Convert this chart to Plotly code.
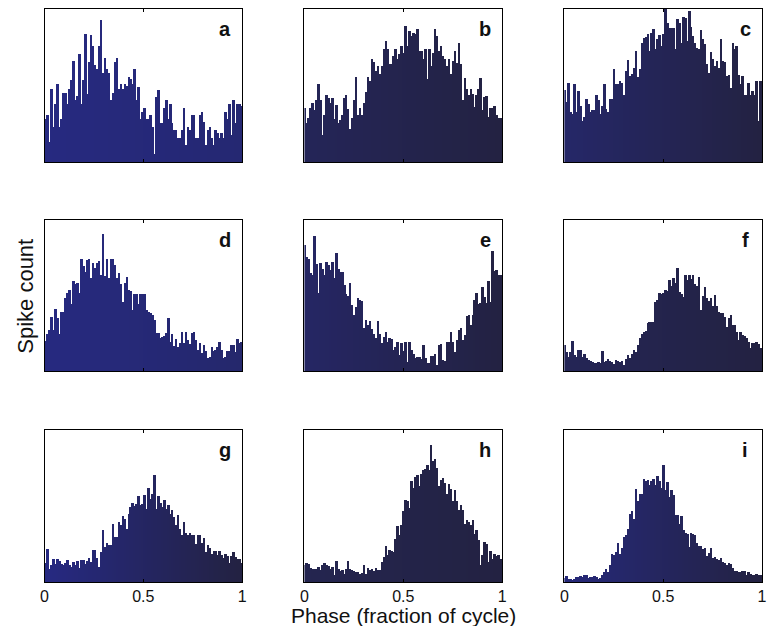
import plotly.graph_objects as go

# Phase histograms: 100 bins over one cycle, spike counts per bin
n_bins = 100
phase = [(k + 0.5) / n_bins for k in range(n_bins)]

counts_a = [43, 47, 20, 73, 35, 58, 77, 35, 43, 69,
            69, 58, 73, 81, 100, 62, 66, 107, 58, 81,
            127, 68, 99, 126, 115, 96, 92, 115, 141, 88,
            103, 92, 88, 62, 69, 99, 103, 73, 77, 73,
            77, 76, 84, 82, 77, 92, 62, 75, 43, 50,
            54, 43, 43, 47, 35, 8, 65, 72, 39, 39,
            54, 62, 43, 58, 39, 32, 32, 24, 24, 32,
            54, 17, 35, 32, 47, 47, 24, 24, 47, 50,
            40, 17, 32, 35, 24, 17, 32, 29, 24, 29,
            24, 50, 43, 58, 27, 62, 39, 58, 58, 56]
counts_b = [54, 39, 44, 54, 59, 52, 62, 77, 62, 27,
            47, 67, 64, 59, 64, 43, 57, 39, 42, 47,
            64, 67, 53, 33, 44, 62, 84, 47, 54, 47,
            59, 70, 84, 80, 102, 99, 90, 95, 87, 95,
            112, 120, 112, 97, 97, 105, 112, 102, 107, 115,
            108, 135, 115, 130, 125, 128, 127, 132, 110, 110,
            102, 112, 82, 112, 95, 108, 132, 125, 110, 115,
            105, 102, 95, 102, 87, 100, 110, 98, 118, 97,
            62, 83, 73, 67, 73, 68, 55, 67, 73, 83,
            52, 65, 66, 45, 54, 54, 56, 47, 44, 44]
counts_c = [72, 60, 78, 50, 48, 77, 50, 71, 56, 41,
            45, 63, 58, 50, 52, 52, 67, 62, 48, 56,
            77, 53, 50, 63, 63, 92, 77, 77, 80, 78,
            67, 90, 101, 85, 87, 93, 110, 84, 92, 118,
            123, 124, 127, 110, 128, 132, 112, 122, 126, 115,
            127, 152, 138, 133, 133, 133, 112, 142, 138, 118,
            144, 143, 120, 150, 134, 125, 118, 113, 112, 131,
            122, 117, 97, 88, 109, 102, 95, 100, 93, 122,
            100, 99, 85, 86, 74, 118, 112, 115, 86, 77,
            85, 67, 67, 78, 67, 71, 67, 80, 41, 80]
counts_d = [30, 37, 41, 54, 41, 62, 53, 37, 59, 59,
            73, 79, 82, 67, 91, 88, 89, 79, 113, 106,
            100, 112, 113, 94, 109, 104, 109, 111, 97, 138,
            96, 113, 94, 113, 113, 107, 94, 99, 88, 69,
            89, 95, 82, 81, 61, 78, 78, 67, 78, 78,
            78, 61, 59, 58, 56, 51, 38, 38, 33, 34,
            35, 38, 53, 29, 37, 25, 32, 24, 28, 39,
            28, 39, 31, 27, 38, 39, 31, 21, 28, 18,
            26, 20, 13, 14, 24, 20, 21, 24, 29, 21,
            13, 14, 20, 20, 26, 26, 19, 32, 28, 29]
counts_e = [127, 115, 113, 99, 97, 136, 108, 79, 109, 103,
            97, 110, 107, 102, 110, 94, 119, 103, 100, 100,
            87, 78, 75, 89, 66, 56, 64, 73, 71, 70,
            43, 51, 46, 50, 42, 37, 33, 50, 37, 28,
            34, 39, 29, 33, 32, 21, 24, 29, 16, 28,
            20, 29, 9, 29, 21, 17, 13, 14, 14, 12,
            26, 13, 8, 8, 15, 15, 17, 6, 26, 27,
            11, 10, 29, 29, 39, 29, 19, 31, 41, 43,
            31, 36, 55, 56, 46, 56, 71, 79, 67, 68,
            85, 74, 68, 91, 69, 121, 101, 102, 97, 97]
counts_f = [26, 19, 14, 19, 30, 16, 14, 21, 21, 14,
            17, 13, 11, 10, 9, 8, 8, 9, 8, 20,
            9, 10, 12, 10, 9, 7, 11, 10, 9, 10,
            6, 12, 16, 13, 17, 21, 19, 26, 33, 37,
            39, 40, 48, 49, 49, 49, 69, 71, 79, 78,
            79, 82, 81, 92, 86, 94, 89, 104, 80, 78,
            74, 97, 92, 97, 93, 97, 88, 86, 95, 61,
            75, 85, 73, 70, 73, 65, 77, 65, 59, 58,
            58, 54, 44, 53, 56, 46, 46, 39, 31, 39,
            36, 35, 33, 29, 23, 28, 28, 29, 27, 23]
counts_g = [19, 33, 13, 17, 23, 18, 23, 21, 18, 17,
            19, 22, 17, 15, 20, 17, 21, 14, 22, 22,
            18, 21, 24, 20, 32, 32, 24, 15, 30, 52,
            35, 39, 37, 37, 58, 45, 45, 60, 57, 66,
            63, 53, 68, 75, 79, 76, 78, 86, 77, 78,
            87, 73, 94, 83, 88, 107, 73, 86, 79, 75,
            82, 73, 77, 68, 72, 65, 57, 67, 53, 47,
            60, 49, 47, 49, 47, 47, 38, 47, 47, 39,
            44, 30, 37, 34, 28, 31, 31, 27, 31, 27,
            24, 28, 26, 19, 26, 30, 25, 23, 23, 19]
counts_h = [17, 19, 18, 14, 13, 13, 13, 15, 12, 17,
            19, 17, 16, 13, 15, 7, 21, 13, 11, 12,
            8, 13, 21, 13, 12, 11, 10, 10, 8, 9,
            17, 8, 14, 12, 13, 11, 14, 12, 12, 20,
            25, 36, 27, 32, 31, 30, 43, 56, 47, 57,
            71, 82, 81, 74, 101, 94, 105, 107, 96, 108,
            112, 113, 117, 112, 137, 121, 123, 114, 96, 102,
            104, 99, 88, 98, 93, 81, 92, 81, 72, 77,
            72, 58, 62, 60, 57, 62, 48, 52, 42, 17,
            27, 40, 38, 20, 31, 23, 28, 26, 27, 23]
counts_i = [4, 6, 3, 3, 2, 3, 5, 5, 6, 5,
            7, 7, 4, 5, 5, 6, 5, 3, 4, 7,
            10, 13, 10, 17, 28, 27, 30, 39, 28, 34,
            45, 47, 53, 68, 71, 63, 93, 81, 88, 88,
            103, 101, 102, 97, 101, 103, 97, 106, 101, 94,
            117, 92, 100, 85, 92, 87, 67, 67, 58, 66,
            52, 49, 48, 35, 49, 48, 47, 39, 36, 36,
            33, 34, 26, 29, 34, 24, 25, 23, 22, 24,
            20, 19, 17, 19, 18, 14, 11, 11, 10, 10,
            11, 11, 7, 10, 8, 7, 7, 8, 7, 7]

panel_labels = ["a", "b", "c", "d", "e", "f", "g", "h", "i"]
panel_counts = [counts_a, counts_b, counts_c, counts_d, counts_e,
                counts_f, counts_g, counts_h, counts_i]
x_tick_vals = [0, 0.5, 1]
x_tick_text = ["0", "0.5", "1"]
count_max = 152

# bar fill: blend from a left colour to a right colour across each panel
fill_ends = [
    ((38, 41, 128), (37, 40, 114)),
    ((36, 37, 88), (35, 34, 66)),
    ((37, 39, 104), (35, 34, 66)),
    ((38, 41, 128), (37, 40, 108)),
    ((37, 38, 100), (35, 34, 66)),
    ((36, 37, 86), (35, 34, 66)),
    ((38, 41, 130), (35, 34, 66)),
    ((36, 37, 80), (35, 34, 66)),
    ((38, 41, 122), (35, 34, 66)),
]

W, H = 770, 626
col_px = [(41, 241), (304, 504), (567, 767)]
row_px = [(9, 162), (220, 371), (430, 582)]
FONT = "Liberation Sans, Arial, Helvetica, sans-serif"


def blend(c0, c1, t):
    return "rgb(%d,%d,%d)" % tuple(round(a + (b - a) * t) for a, b in zip(c0, c1))


fig = go.Figure()
layout = dict(
    width=W, height=H,
    margin=dict(l=0, r=0, t=0, b=0),
    paper_bgcolor="white", plot_bgcolor="white",
    showlegend=False, bargap=0,
    font=dict(family=FONT, color="#111111"),
)
annotations = []

for idx, (label, counts) in enumerate(zip(panel_labels, panel_counts)):
    r, c = divmod(idx, 3)
    n = idx + 1
    xa = "x" if n == 1 else "x%d" % n
    ya = "y" if n == 1 else "y%d" % n
    c0, c1 = fill_ends[idx]
    colors = [blend(c0, c1, k / (n_bins - 1)) for k in range(n_bins)]
    fig.add_trace(go.Bar(
        x=phase, y=counts, width=1 / n_bins,
        marker=dict(color=colors, line=dict(width=0)),
        xaxis=xa, yaxis=ya, hoverinfo="x+y",
    ))
    x0, x1 = col_px[c]
    y0, y1 = row_px[r]
    bottom = r == 2
    layout["xaxis" if n == 1 else "xaxis%d" % n] = dict(
        domain=[x0 / W, x1 / W], anchor=ya, range=[0, 1],
        showline=True, linecolor="black", linewidth=1, mirror="ticks",
        ticks="inside", ticklen=3, tickcolor="black",
        tickvals=x_tick_vals, ticktext=x_tick_text,
        showticklabels=bottom, ticklabelstandoff=0,
        tickfont=dict(size=16, family=FONT, color="#111111"),
        showgrid=False, zeroline=False, fixedrange=True,
    )
    layout["yaxis" if n == 1 else "yaxis%d" % n] = dict(
        domain=[1 - y1 / H, 1 - y0 / H], anchor=xa, range=[0, count_max],
        showline=True, linecolor="black", linewidth=1, mirror=True,
        ticks="", showticklabels=False, showgrid=False, zeroline=False,
        fixedrange=True,
    )
    annotations.append(dict(
        text="<b>%s</b>" % label, xref="%s domain" % xa, yref="%s domain" % ya,
        x=0.915, y=0.87, xanchor="center", yanchor="middle", showarrow=False,
        font=dict(size=20, family=FONT, color="#111111"),
    ))

annotations.append(dict(
    text="Phase (fraction of cycle)", xref="paper", yref="paper",
    x=404 / W, y=1 - 615 / H, xanchor="center", yanchor="middle",
    showarrow=False, font=dict(size=21, family=FONT, color="#111111"),
))
annotations.append(dict(
    text="Spike count", xref="paper", yref="paper",
    x=22 / W, y=1 - 296 / H, xanchor="center", yanchor="middle",
    textangle=-90, showarrow=False,
    font=dict(size=22, family=FONT, color="#111111"),
))
layout["annotations"] = annotations
fig.update_layout(**layout)
fig.write_html("out.html")
